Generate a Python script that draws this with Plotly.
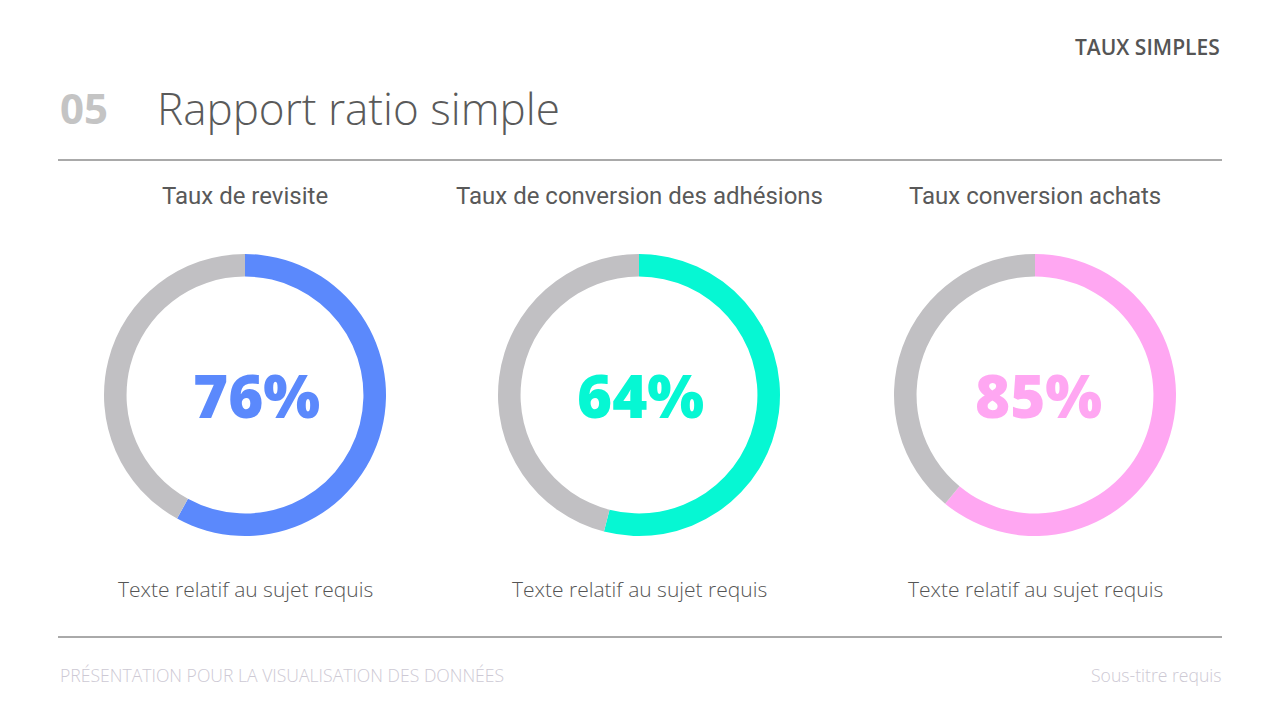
import plotly.graph_objects as go

# ---- data ----
titles = ["Taux de revisite", "Taux de conversion des adhésions", "Taux conversion achats"]
labels_pct = ["76%", "64%", "85%"]
arc_values = [58, 54, 61]          # filled arc share
rest_values = [42, 46, 39]
colors = ["#5b89fc", "#06f7d3", "#ffa7f2"]
gray = "#c1c0c3"
captions = ["Texte relatif au sujet requis"] * 3
centers_x = [245, 639, 1035]       # pixel centres in the screenshot
pct_x = [256, 640, 1038]

W, H = 1280, 720
OFF = 8          # page body margin in the browser
cy = 395
R = 141

def px(x): return (x - OFF) / W
def py(y): return 1 - (y - OFF) / H

fig = go.Figure()
for i in range(3):
    cx = centers_x[i]
    fig.add_trace(go.Pie(
        values=[arc_values[i], rest_values[i]],
        marker=dict(colors=[colors[i], gray], line=dict(width=0)),
        hole=0.84, sort=False, direction="clockwise", rotation=0,
        textinfo="none", hoverinfo="skip", showlegend=False,
        domain=dict(x=[px(cx - R), px(cx + R)], y=[py(cy + R), py(cy - R)]),
    ))

ann = []
ann.append(dict(x=px(1222), y=py(47), text="TAUX SIMPLES", xanchor="right", yanchor="middle",
                font=dict(family="Open Sans", size=21, color="#555555", weight=600), showarrow=False))
ann.append(dict(x=px(58), y=py(108), text="05", xanchor="left", yanchor="middle",
                font=dict(family="Open Sans", size=42, color="#c4c4c4", weight=700), showarrow=False))
ann.append(dict(x=px(155), y=py(108), text="Rapport ratio simple", xanchor="left", yanchor="middle",
                font=dict(family="Open Sans", size=44, color="#5a5a5a", weight=300), showarrow=False))
for i in range(3):
    ann.append(dict(x=px(centers_x[i]), y=py(196), text=titles[i], xanchor="center", yanchor="middle",
                    font=dict(family="Roboto", size=24, color="#595959", weight=400), showarrow=False))
    ann.append(dict(x=px(pct_x[i]), y=py(395), text=labels_pct[i], xanchor="center", yanchor="middle",
                    font=dict(family="Open Sans", size=60, color=colors[i], weight=800), showarrow=False))
    ann.append(dict(x=px(centers_x[i]), y=py(589), text=captions[i], xanchor="center", yanchor="middle",
                    font=dict(family="Open Sans", size=21, color="#555555", weight=300), showarrow=False))
ann.append(dict(x=px(58), y=py(675), text="PRÉSENTATION POUR LA VISUALISATION DES DONNÉES", xanchor="left",
                yanchor="middle", font=dict(family="Open Sans", size=17.6, color="#cdc9d4", weight=300), showarrow=False))
ann.append(dict(x=px(1224), y=py(675), text="Sous-titre requis", xanchor="right",
                yanchor="middle", font=dict(family="Open Sans", size=17.6, color="#cdc9d4", weight=300), showarrow=False))
for a in ann:
    a["xref"] = "paper"; a["yref"] = "paper"

shapes = [
    dict(type="line", xref="paper", yref="paper", x0=px(58), x1=px(1222), y0=py(160), y1=py(160),
         line=dict(color="#555555", width=1)),
    dict(type="line", xref="paper", yref="paper", x0=px(58), x1=px(1222), y0=py(637), y1=py(637),
         line=dict(color="#555555", width=1)),
]

fig.update_layout(width=W, height=H, margin=dict(l=0, r=0, t=0, b=0),
                  paper_bgcolor="#ffffff", plot_bgcolor="#ffffff",
                  annotations=ann, shapes=shapes)
fig.write_html("out.html", config={"displayModeBar": False})
